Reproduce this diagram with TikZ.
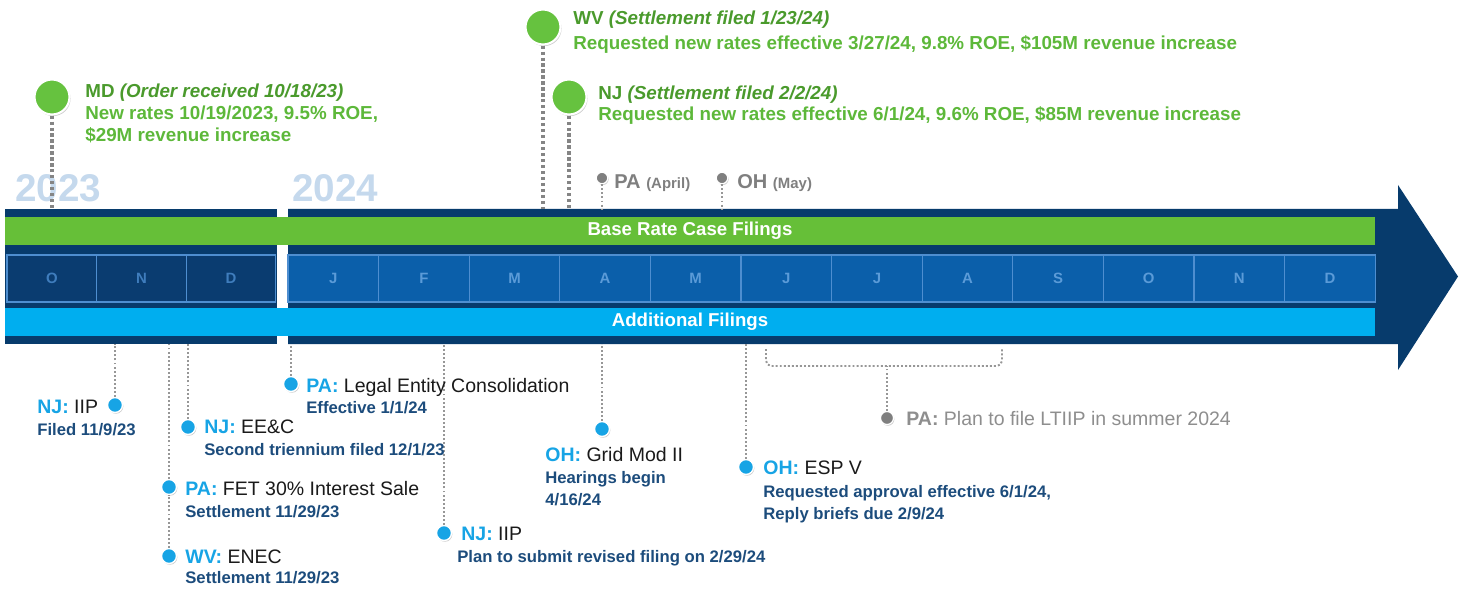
\documentclass[tikz,border=0pt]{standalone}
\usepackage{fontspec}
\setmainfont{Liberation Sans}
\usetikzlibrary{shadows}

\definecolor{bandnavy}{HTML}{073B6C}
\definecolor{cellold}{HTML}{0A3C70}
\definecolor{cellnew}{HTML}{0B5FAA}
\definecolor{cellline}{HTML}{4E8ED0}
\definecolor{monthold}{HTML}{3F7DBD}
\definecolor{monthnew}{HTML}{5B9BD8}
\definecolor{basegreen}{HTML}{66BF38}
\definecolor{addcyan}{HTML}{00AEEF}
\definecolor{yearblue}{HTML}{C5D9ED}
\definecolor{dotgreen}{HTML}{66C23F}
\definecolor{titlegreen}{HTML}{4A9A2C}
\definecolor{notegreen}{HTML}{5DB83A}
\definecolor{dotblue}{HTML}{17A4E5}
\definecolor{subnavy}{HTML}{1C4C7C}
\definecolor{dotgray}{HTML}{7F7F7F}
\definecolor{notegray}{HTML}{8E8E8E}
\definecolor{linkgray}{HTML}{858585}
\definecolor{headblack}{HTML}{1A1A1A}

\newcommand{\stlabel}[1]{{\color{dotblue}\bfseries #1}}

\begin{document}
\begin{tikzpicture}[
  x=1cm,
  y=1cm,
  bigdot/.style={
    circle,
    fill=dotgreen,
    draw=white,
    line width=1.2pt,
    minimum size=7mm,
    inner sep=0pt,
    drop shadow={shadow xshift=0.6pt, shadow yshift=-0.9pt, opacity=0.4}
  },
  bluedot/.style={
    circle,
    fill=dotblue,
    draw=white,
    line width=0.8pt,
    minimum size=3mm,
    inner sep=0pt,
    drop shadow={shadow xshift=0.5pt, shadow yshift=-0.7pt, opacity=0.4}
  },
  graydot/.style={
    circle,
    fill=dotgray,
    draw=white,
    line width=0.7pt,
    minimum size=2.3mm,
    inner sep=0pt,
    drop shadow={shadow xshift=0.5pt, shadow yshift=-0.7pt, opacity=0.4}
  },
  monthcell/.style={
    draw=cellline,
    line width=0.6pt,
    minimum height=9.4mm,
    inner sep=0pt,
    font=\fontsize{8.5}{9}\selectfont\bfseries
  },
  toplink/.style={draw=linkgray, line width=1.8pt, dash pattern=on 1.8pt off 1.6pt},
  botlink/.style={draw=linkgray!85, line width=1.1pt, dash pattern=on 1.1pt off 1.2pt},
  yearlbl/.style={font=\fontsize{22}{22}\selectfont\bfseries, text=yearblue, anchor=west, inner sep=0pt},
  bandlbl/.style={font=\fontsize{10.6}{12}\selectfont\bfseries, text=white},
  greennote/.style={font=\fontsize{10.7}{12.5}\selectfont\bfseries, text=titlegreen,
    anchor=north west, inner sep=0pt, align=left},
  evhead/.style={font=\fontsize{11.1}{13}\selectfont, text=headblack, anchor=base west, inner sep=0pt},
  evsub/.style={font=\fontsize{9.5}{12.3}\selectfont\bfseries, text=subnavy, anchor=base west,
    inner sep=0pt, align=left}
]

\useasboundingbox (0,0) rectangle (29.3,11.8);

% band with the two years
\fill[bandnavy] (0.10,4.92) rectangle (5.54,7.62);
\fill[bandnavy] (5.76,4.92) -- (27.96,4.92) -- (27.96,4.40) -- (29.16,6.27)
  -- (27.96,8.10) -- (27.96,7.62) -- (5.76,7.62) -- cycle;
\fill[basegreen] (0.10,6.90) rectangle (27.50,7.46);
\fill[addcyan] (0.10,5.08) rectangle (27.50,5.64);

\foreach \m [count=\i] in {O,N,D}
  \node[monthcell, fill=cellold, text=monthold, minimum width=17.93mm]
    (old\i) at ({0.14+(\i-0.5)*1.793},6.23) {\m};
\foreach \m [count=\i] in {J,F,M,A,M,J,J,A,S,O,N,D}
  \node[monthcell, fill=cellnew, text=monthnew, minimum width=18.12mm]
    (new\i) at ({5.76+(\i-0.5)*1.812},6.23) {\m};

\node[bandlbl] (baseLbl) at (13.80,7.18) {Base Rate Case Filings};
\node[bandlbl] (addLbl) at (13.80,5.36) {Additional Filings};

\node[yearlbl] (year23) at (0.30,8.04) {2023};
\node[yearlbl] (year24) at (5.84,8.04) {2024};

\coordinate (topedge) at (0,7.62);
\coordinate (botedge) at (0,4.92);

% base rate cases above the band
\node[bigdot] (mdDot) at (1.04,9.86) {};
\node[bigdot] (wvDot) at (10.86,11.26) {};
\node[bigdot] (njDot) at (11.38,9.86) {};
\node[graydot] (paAprDot) at (12.04,8.24) {};
\node[graydot] (ohMayDot) at (14.44,8.24) {};

\draw[toplink] (mdDot.south) -- (mdDot |- topedge);
\draw[toplink] (wvDot.south) -- (wvDot |- topedge);
\draw[toplink] (njDot.south) -- (njDot |- topedge);
\draw[botlink] (paAprDot.south) -- (paAprDot |- topedge);
\draw[botlink] (ohMayDot.south) -- (ohMayDot |- topedge);

\node[greennote] (mdText) at (1.70,10.12)
  {MD \textit{(Order received 10/18/23)}\\
   \textcolor{notegreen}{New rates 10/19/2023, 9.5\% ROE,}\\
   \textcolor{notegreen}{\$29M revenue increase}};
\node[greennote, font=\fontsize{10.7}{13.7}\selectfont\bfseries] (wvText) at (11.46,11.58)
  {WV \textit{(Settlement filed 1/23/24)}\\
   \textcolor{notegreen}{Requested new rates effective 3/27/24, 9.8\% ROE, \$105M revenue increase}};
\node[greennote, font=\fontsize{10.7}{11.6}\selectfont\bfseries] (njText) at (11.96,10.08)
  {NJ \textit{(Settlement filed 2/2/24)}\\
   \textcolor{notegreen}{Requested new rates effective 6/1/24, 9.6\% ROE, \$85M revenue increase}};

\node[evhead, text=dotgray] (paAprText) at (12.28,8.02)
  {\fontsize{11.4}{12}\selectfont\bfseries PA \fontsize{8.5}{10}\selectfont(April)};
\node[evhead, text=dotgray] (ohMayText) at (14.74,8.02)
  {\fontsize{11.4}{12}\selectfont\bfseries OH \fontsize{8.5}{10}\selectfont(May)};

% additional filings below the band
\node[bluedot] (njIipDot) at (2.30,3.70) {};
\node[bluedot] (eecDot) at (3.76,3.26) {};
\node[bluedot] (fetDot) at (3.38,2.06) {};
\node[bluedot] (enecDot) at (3.38,0.68) {};
\node[bluedot] (legalDot) at (5.82,4.12) {};
\node[bluedot] (njIip2Dot) at (8.88,1.14) {};
\node[bluedot] (gridDot) at (12.04,3.22) {};
\node[bluedot] (espDot) at (14.92,2.46) {};
\node[graydot, minimum size=2.6mm] (ltiipDot) at (17.74,3.44) {};

\draw[botlink] (njIipDot.north) -- (njIipDot |- botedge);
\draw[botlink] (eecDot.north) -- (eecDot |- botedge);
\draw[botlink] (fetDot.north) -- (fetDot |- botedge);
\draw[botlink] (enecDot.north) -- (fetDot.south);
\draw[botlink] (legalDot.north) -- (legalDot |- botedge);
\draw[botlink] (njIip2Dot.north) -- (njIip2Dot |- botedge);
\draw[botlink] (gridDot.north) -- (gridDot |- botedge);
\draw[botlink] (espDot.north) -- (espDot |- botedge);

\coordinate (brL) at (15.32,4.82);
\coordinate (brR) at (20.04,4.82);
\coordinate (brM) at (17.74,4.48);
\draw[botlink, rounded corners=3pt] (brL) |- (brM) -| (brR);
\draw[botlink] (ltiipDot.north) -- (brM);

\node[evhead] (njIipHead) at (0.74,3.54) {\stlabel{NJ:} IIP};
\node[evsub] (njIipSub) at (0.74,3.10) {Filed 11/9/23};
\node[evhead] (eecHead) at (4.08,3.14) {\stlabel{NJ:} EE\&C};
\node[evsub] (eecSub) at (4.08,2.70) {Second triennium filed 12/1/23};
\node[evhead] (fetHead) at (3.70,1.90) {\stlabel{PA:} FET 30\% Interest Sale};
\node[evsub] (fetSub) at (3.70,1.46) {Settlement 11/29/23};
\node[evhead] (enecHead) at (3.70,0.54) {\stlabel{WV:} ENEC};
\node[evsub] (enecSub) at (3.70,0.14) {Settlement 11/29/23};
\node[evhead] (legalHead) at (6.12,3.96) {\stlabel{PA:} Legal Entity Consolidation};
\node[evsub] (legalSub) at (6.12,3.54) {Effective 1/1/24};
\node[evhead] (njIip2Head) at (9.22,1.00) {\stlabel{NJ:} IIP};
\node[evsub] (njIip2Sub) at (9.14,0.56) {Plan to submit revised filing on 2/29/24};
\node[evhead] (gridHead) at (10.90,2.58) {\stlabel{OH:} Grid Mod II};
\node[evsub] (gridSub) at (10.90,1.70) {Hearings begin\\4/16/24};
\node[evhead] (espHead) at (15.26,2.32) {\stlabel{OH:} ESP V};
\node[evsub] (espSub) at (15.26,1.42) {Requested approval effective 6/1/24,\\Reply briefs due 2/9/24};
\node[evhead, text=notegray] (ltiipText) at (18.12,3.30) {\textbf{PA:} Plan to file LTIIP in summer 2024};

\end{tikzpicture}
\end{document}
